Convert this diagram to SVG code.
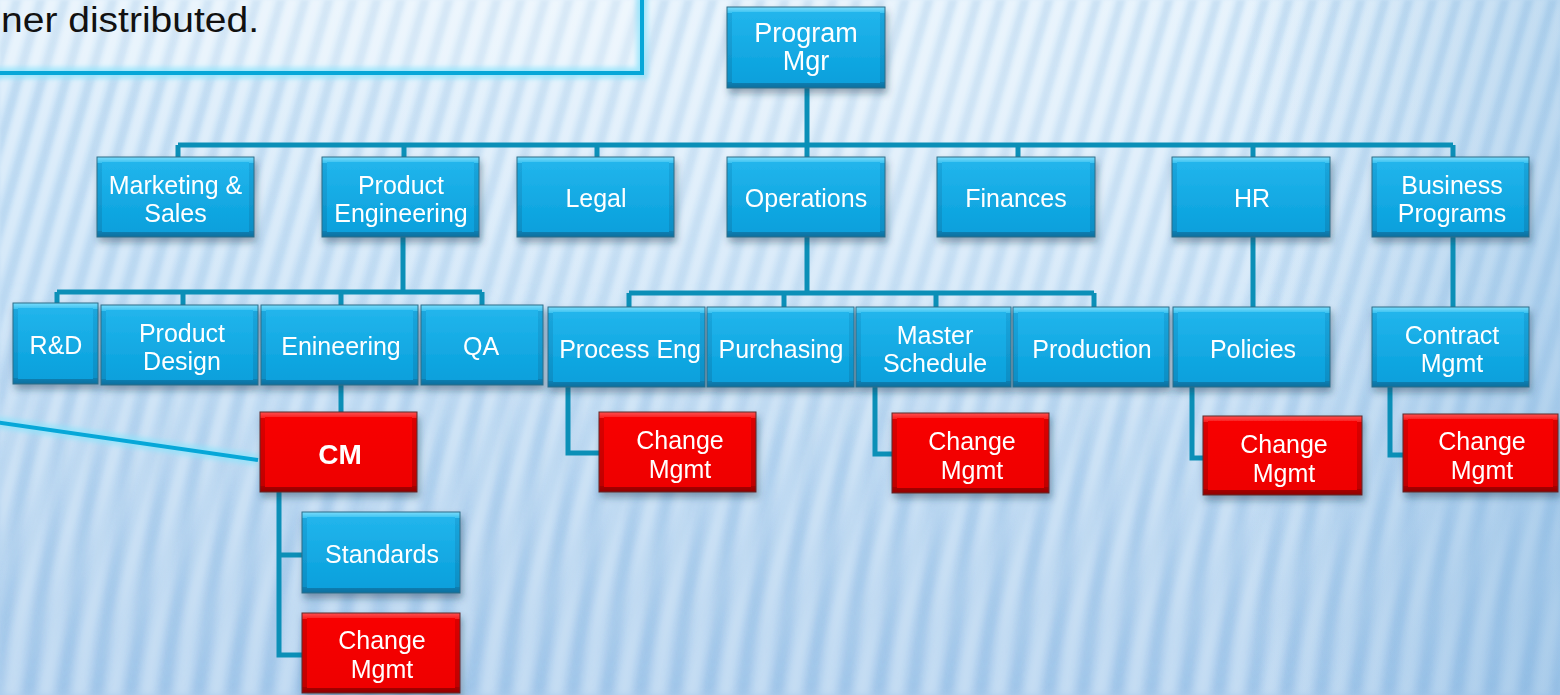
<svg xmlns="http://www.w3.org/2000/svg" width="1560" height="695" viewBox="0 0 1560 695">
<defs>
<linearGradient id="bg" x1="0" y1="0" x2="0" y2="1">
<stop offset="0" stop-color="#d5eafa"/>
<stop offset="0.45" stop-color="#c6e0f6"/>
<stop offset="1" stop-color="#aecfee"/>
</linearGradient>
<radialGradient id="glow" cx="0.55" cy="0.1" r="0.55">
<stop offset="0" stop-color="#ffffff" stop-opacity="0.3"/>
<stop offset="1" stop-color="#ffffff" stop-opacity="0"/>
</radialGradient>
<linearGradient id="edgeR" x1="0" y1="0" x2="1" y2="0">
<stop offset="0.8" stop-color="#6fa8d8" stop-opacity="0"/>
<stop offset="1" stop-color="#6fa8d8" stop-opacity="0.3"/>
</linearGradient>
<pattern id="stripes" width="24" height="40" patternUnits="userSpaceOnUse" patternTransform="skewX(-16)">
<rect x="0" y="0" width="9" height="40" fill="#ffffff" fill-opacity="0.35"/>
<rect x="13" y="0" width="8" height="40" fill="#7eb0dc" fill-opacity="0.25"/>
</pattern>
<pattern id="stripes2" width="34" height="40" patternUnits="userSpaceOnUse" patternTransform="skewX(-8)">
<rect x="0" y="0" width="14" height="40" fill="#ffffff" fill-opacity="0.28"/>
<rect x="18" y="0" width="12" height="40" fill="#6fa3d4" fill-opacity="0.22"/>
</pattern>
<linearGradient id="fadeTop" x1="0" y1="0" x2="0" y2="1">
<stop offset="0" stop-color="#fff" stop-opacity="1"/>
<stop offset="0.5" stop-color="#fff" stop-opacity="0.6"/>
<stop offset="1" stop-color="#fff" stop-opacity="0"/>
</linearGradient>
<linearGradient id="fadeBot" x1="0" y1="0" x2="0" y2="1">
<stop offset="0.4" stop-color="#fff" stop-opacity="0"/>
<stop offset="1" stop-color="#fff" stop-opacity="1"/>
</linearGradient>
<mask id="mTop"><rect width="1560" height="695" fill="url(#fadeTop)"/></mask>
<mask id="mBot"><rect width="1560" height="695" fill="url(#fadeBot)"/></mask>
<filter id="soft" x="-5%" y="-5%" width="110%" height="110%">
<feGaussianBlur stdDeviation="1.6"/>
</filter>
<filter id="soft2" x="-5%" y="-5%" width="110%" height="110%">
<feGaussianBlur stdDeviation="3"/>
</filter>
<filter id="shadow" x="-10%" y="-10%" width="125%" height="135%">
<feDropShadow dx="2" dy="5" stdDeviation="3.5" flood-color="#1a3550" flood-opacity="0.4"/>
</filter>
<filter id="lineglow" x="-10%" y="-50%" width="120%" height="200%">
<feGaussianBlur stdDeviation="2.5"/>
</filter>
<linearGradient id="bvB" x1="0" y1="0" x2="0" y2="1">
<stop offset="0" stop-color="#7adcfc"/>
<stop offset="0.07" stop-color="#3cc3f1"/>
<stop offset="0.075" stop-color="#1ba6dd"/>
<stop offset="0.92" stop-color="#0c8fc6"/>
<stop offset="0.925" stop-color="#0a7fb3"/>
<stop offset="1" stop-color="#086f9e"/>
</linearGradient>
<linearGradient id="fcB" x1="0" y1="0" x2="0" y2="1">
<stop offset="0" stop-color="#22b5ec"/>
<stop offset="1" stop-color="#08a0dc"/>
</linearGradient>
<linearGradient id="bvR" x1="0" y1="0" x2="0" y2="1">
<stop offset="0" stop-color="#ff5050"/>
<stop offset="0.07" stop-color="#f82020"/>
<stop offset="0.075" stop-color="#dc0000"/>
<stop offset="0.92" stop-color="#c00000"/>
<stop offset="0.925" stop-color="#a80000"/>
<stop offset="1" stop-color="#900000"/>
</linearGradient>
<linearGradient id="fcR" x1="0" y1="0" x2="0" y2="1">
<stop offset="0" stop-color="#f80000"/>
<stop offset="1" stop-color="#ee0000"/>
</linearGradient>
<style>
.node .o{stroke-width:1}
.blue .o{fill:url(#bvB);stroke:#2d6c88}
.blue .f{fill:url(#fcB)}
.red .o{fill:url(#bvR);stroke:#5e2a2a}
.red .f{fill:url(#fcR)}
.node text{font-family:"Liberation Sans",Arial,sans-serif;font-size:25px;fill:#ffffff;text-anchor:middle}
.node text.big{font-size:27px}
.node text.bold{font-weight:bold;font-size:28px}
.conn path{fill:none;stroke:#0b8fb7;stroke-width:5;stroke-linejoin:miter;stroke-linecap:butt}
</style>
</defs>

<!-- background -->
<rect width="1560" height="695" fill="url(#bg)"/>
<g filter="url(#soft)" mask="url(#mTop)"><rect width="1560" height="695" fill="url(#stripes)"/></g>
<g filter="url(#soft2)" mask="url(#mBot)"><rect width="1560" height="695" fill="url(#stripes2)"/></g>
<rect width="1560" height="695" fill="url(#glow)"/>
<rect width="1560" height="695" fill="url(#edgeR)"/>

<!-- callout box (partially off-canvas) -->
<g id="callout">
<rect x="-20" y="-20" width="662" height="93" fill="#ffffff" fill-opacity="0.25"/>
<path d="M-10 73 H642 V-10" fill="none" stroke="#8fe4fb" stroke-width="11" stroke-opacity="0.8" filter="url(#lineglow)"/>
<path d="M-10 73 H642 V-10" fill="none" stroke="#06a7d8" stroke-width="4"/>
<text x="1" y="32" font-family="Liberation Sans,Arial,sans-serif" font-size="35" fill="#111111" textLength="258" lengthAdjust="spacingAndGlyphs">ner distributed.</text>
</g>

<!-- callout pointer line -->
<g id="pointer">
<path d="M-5 422 L258 460" stroke="#8fe4fb" stroke-width="11" stroke-opacity="0.8" filter="url(#lineglow)" fill="none"/>
<path d="M-5 422 L258 460" stroke="#06a7d8" stroke-width="4" fill="none"/>
</g>

<!-- connectors -->
<g id="connectors" class="conn">
<path d="M807 88 V157"/>
<path d="M178 145 H1453"/>
<path d="M178 145 V157 M404 145 V157 M597 145 V157 M1018 145 V157 M1253 145 V157 M1453 145 V157"/>
<path d="M403 237 V292"/>
<path d="M57 292 H482"/>
<path d="M57 292 V303 M183 292 V305 M341 292 V305 M482 292 V305"/>
<path d="M341 385 V412"/>
<path d="M279 492 V655 H302 M279 555 H302"/>
<path d="M807 237 V293"/>
<path d="M629 293 H1094"/>
<path d="M629 293 V307 M784 293 V307 M936 293 V307 M1094 293 V307"/>
<path d="M1253 237 V307"/>
<path d="M1453 237 V307"/>
<path d="M568 387 V453 H599"/>
<path d="M875 387 V454 H892"/>
<path d="M1192 387 V458 H1203"/>
<path d="M1390 387 V455 H1403"/>
</g>

<!-- nodes -->
<g id="nodes" filter="url(#shadow)">
<g id="n-program-mgr" class="node blue"><rect class="o" x="727" y="7" width="158" height="81"/><rect class="f" x="732" y="12" width="148" height="71"/><text class="big" x="806" y="42">Program</text><text class="big" x="806" y="70">Mgr</text></g>

<g id="n-marketing" class="node blue"><rect class="o" x="97" y="157" width="157" height="80"/><rect class="f" x="102" y="162" width="147" height="70"/><text x="175.5" y="194">Marketing &amp;</text><text x="175.5" y="222">Sales</text></g>
<g id="n-product-eng" class="node blue"><rect class="o" x="322" y="157" width="157" height="80"/><rect class="f" x="327" y="162" width="147" height="70"/><text x="401" y="194">Product</text><text x="401" y="222">Engineering</text></g>
<g id="n-legal" class="node blue"><rect class="o" x="517" y="157" width="157" height="80"/><rect class="f" x="522" y="162" width="147" height="70"/><text x="596" y="207">Legal</text></g>
<g id="n-operations" class="node blue"><rect class="o" x="727" y="157" width="158" height="80"/><rect class="f" x="732" y="162" width="148" height="70"/><text x="806" y="207">Operations</text></g>
<g id="n-finances" class="node blue"><rect class="o" x="937" y="157" width="158" height="80"/><rect class="f" x="942" y="162" width="148" height="70"/><text x="1016" y="207">Finances</text></g>
<g id="n-hr" class="node blue"><rect class="o" x="1172" y="157" width="158" height="80"/><rect class="f" x="1177" y="162" width="148" height="70"/><text x="1252" y="207">HR</text></g>
<g id="n-business-programs" class="node blue"><rect class="o" x="1372" y="157" width="157" height="80"/><rect class="f" x="1377" y="162" width="147" height="70"/><text x="1452" y="194">Business</text><text x="1452" y="222">Programs</text></g>

<g id="n-rd" class="node blue"><rect class="o" x="13" y="303" width="85" height="81"/><rect class="f" x="18" y="308" width="75" height="71"/><text x="56" y="354">R&amp;D</text></g>
<g id="n-product-design" class="node blue"><rect class="o" x="101" y="305" width="157" height="80"/><rect class="f" x="106" y="310" width="147" height="70"/><text x="182" y="342">Product</text><text x="182" y="370">Design</text></g>
<g id="n-enineering" class="node blue"><rect class="o" x="261" y="305" width="157" height="80"/><rect class="f" x="266" y="310" width="147" height="70"/><text x="341" y="355">Enineering</text></g>
<g id="n-qa" class="node blue"><rect class="o" x="421" y="305" width="122" height="80"/><rect class="f" x="426" y="310" width="112" height="70"/><text x="481" y="355">QA</text></g>

<g id="n-process-eng" class="node blue"><rect class="o" x="548" y="307" width="157" height="80"/><rect class="f" x="553" y="312" width="147" height="70"/><text x="630" y="358">Process Eng</text></g>
<g id="n-purchasing" class="node blue"><rect class="o" x="707" y="307" width="147" height="80"/><rect class="f" x="712" y="312" width="137" height="70"/><text x="781" y="358">Purchasing</text></g>
<g id="n-master-schedule" class="node blue"><rect class="o" x="856" y="307" width="155" height="80"/><rect class="f" x="861" y="312" width="145" height="70"/><text x="935" y="344">Master</text><text x="935" y="372">Schedule</text></g>
<g id="n-production" class="node blue"><rect class="o" x="1013" y="307" width="156" height="80"/><rect class="f" x="1018" y="312" width="146" height="70"/><text x="1092" y="358">Production</text></g>
<g id="n-policies" class="node blue"><rect class="o" x="1173" y="307" width="157" height="80"/><rect class="f" x="1178" y="312" width="147" height="70"/><text x="1253" y="358">Policies</text></g>
<g id="n-contract-mgmt" class="node blue"><rect class="o" x="1372" y="307" width="157" height="80"/><rect class="f" x="1377" y="312" width="147" height="70"/><text x="1452" y="344">Contract</text><text x="1452" y="372">Mgmt</text></g>

<g id="n-cm" class="node red"><rect class="o" x="260" y="412" width="157" height="80"/><rect class="f" x="265" y="417" width="147" height="70"/><text class="bold" x="340" y="464">CM</text></g>
<g id="n-standards" class="node blue"><rect class="o" x="302" y="512" width="158" height="81"/><rect class="f" x="307" y="517" width="148" height="71"/><text x="382" y="563">Standards</text></g>
<g id="n-cm-change" class="node red"><rect class="o" x="302" y="613" width="158" height="80"/><rect class="f" x="307" y="618" width="148" height="70"/><text x="382" y="649">Change</text><text x="382" y="678">Mgmt</text></g>

<g id="n-pe-change" class="node red"><rect class="o" x="599" y="412" width="157" height="80"/><rect class="f" x="604" y="417" width="147" height="70"/><text x="680" y="449">Change</text><text x="680" y="478">Mgmt</text></g>
<g id="n-ms-change" class="node red"><rect class="o" x="892" y="413" width="157" height="80"/><rect class="f" x="897" y="418" width="147" height="70"/><text x="972" y="450">Change</text><text x="972" y="479">Mgmt</text></g>
<g id="n-pol-change" class="node red"><rect class="o" x="1203" y="416" width="159" height="79"/><rect class="f" x="1208" y="421" width="149" height="69"/><text x="1284" y="453">Change</text><text x="1284" y="482">Mgmt</text></g>
<g id="n-contract-change" class="node red"><rect class="o" x="1403" y="414" width="155" height="78"/><rect class="f" x="1408" y="419" width="145" height="68"/><text x="1482" y="450">Change</text><text x="1482" y="479">Mgmt</text></g>
</g>
</svg>
